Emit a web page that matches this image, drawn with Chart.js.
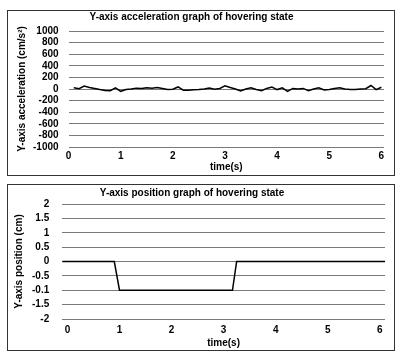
<!DOCTYPE html>
<html>
<head>
<meta charset="utf-8">
<script src="https://cdn.jsdelivr.net/npm/chart.js@4"></script>
<style>
  html, body { margin: 0; padding: 0; background: #fff; }
  body { width: 400px; height: 357px; position: relative; overflow: hidden; }
  .panel { position: absolute; border: 1px solid #333; box-sizing: border-box; background: #fff; }
  #p1 { left: 7px; top: 10px; width: 388px; height: 166px; }
  #p2 { left: 7px; top: 184px; width: 388px; height: 167px; }
  canvas { display: block; }
</style>
</head>
<body>
<div class="panel" id="p1"><canvas id="c1"></canvas></div>
<div class="panel" id="p2"><canvas id="c2"></canvas></div>
<script>
// ---- Data ----
const accTime = [0.1,0.2,0.3,0.4,0.5,0.6,0.7,0.8,0.9,1.0,1.1,1.2,1.3,1.4,1.5,1.6,1.7,1.8,1.9,2.0,
                 2.1,2.2,2.3,2.4,2.5,2.6,2.7,2.8,2.9,3.0,3.1,3.2,3.3,3.4,3.5,3.6,3.7,3.8,3.9,4.0,
                 4.1,4.2,4.3,4.4,4.5,4.6,4.7,4.8,4.9,5.0,5.1,5.2,5.3,5.4,5.5,5.6,5.7,5.8,5.9,6.0];
const accValues = [20,5,50,25,10,-10,-25,-30,20,-40,-10,0,15,10,20,15,25,10,-10,-5,
                   35,-20,-20,-15,-10,0,15,-5,10,55,25,0,-35,0,20,-10,-30,10,35,-10,
                   20,-40,10,0,10,-30,0,20,-15,-10,10,20,0,-10,-10,0,5,60,-10,30];
const posTime = [-0.1,0.9,1.0,3.17,3.25,6.1];
const posValues = [0,0,-1,-1,0,0];
const accTicks = [1000,800,600,400,200,0,-200,-400,-600,-800,-1000];
const posTickLabels = {"2":"2","1.5":"1.5","1":"1","0.5":"0.5","0":"0","-0.5":"-0.5","-1":"-0.1","-1.5":"-1.5","-2":"-2"};
const xTickLabels = ["0","1","2","3","4","5","6"];

const FONT = "'Liberation Sans', Arial, sans-serif";
Chart.defaults.font.family = FONT;
Chart.defaults.color = '#000';

function makeChart(id, w, h, cfg) {
  const cv = document.getElementById(id);
  cv.width = w; cv.height = h;
  cv.style.width = w + 'px'; cv.style.height = h + 'px';
  return new Chart(cv, {
    type: 'line',
    data: { datasets: [{
      data: cfg.xs.map((x, i) => ({x: x, y: cfg.ys[i]})),
      borderColor: '#000', borderWidth: 1.5, pointRadius: 0, tension: 0, fill: false
    }]},
    options: {
      responsive: false, animation: false, devicePixelRatio: 1,
      layout: { padding: cfg.padding },
      plugins: {
        legend: { display: false }, tooltip: { enabled: false },
        title: { display: true, text: cfg.title, color: '#000',
                 font: { size: 10, weight: 'bold', family: FONT },
                 padding: cfg.titlePad }
      },
      scales: {
        x: {
          type: 'linear', min: cfg.xmin, max: cfg.xmax,
          grid: { display: false, drawTicks: false }, border: { display: false },
          ticks: { stepSize: 1, includeBounds: false, autoSkip: false, maxRotation: 0,
                   color: '#000', padding: cfg.xTickPad,
                   font: { size: 10, weight: 'bold' },
                   callback: v => xTickLabels[v] !== undefined ? xTickLabels[v] : '' },
          title: { display: true, text: 'time(s)', color: '#000', padding: cfg.xTitlePad,
                   font: { size: 10, weight: 'bold', lineHeight: 1.0 } }
        },
        y: {
          min: cfg.ymin, max: cfg.ymax,
          grid: { color: '#7a7a7a', lineWidth: 1, drawTicks: false },
          border: { display: false },
          ticks: { stepSize: cfg.ystep, autoSkip: false, color: '#000', padding: cfg.yTickPad,
                   font: { size: 10, weight: 'bold' }, callback: cfg.ycb },
          title: { display: true, text: cfg.ytitle, color: '#000', padding: cfg.yTitlePad,
                   font: { size: 10, weight: 'bold' } }
        }
      }
    }
  });
}

makeChart('c1', 386, 164, {
  xs: accTime, ys: accValues, xmin: 0, xmax: 6.05, ymin: -1000, ymax: 1000, ystep: 200,
  title: 'Y-axis acceleration graph of hovering state',
  ytitle: 'Y-axis acceleration (cm/s²)',
  ycb: v => accTicks.includes(v) ? String(v) : '',
  padding: { left: -9, right: 10, top: 0, bottom: 3 },
  titlePad: { top: 0, bottom: 8 },
  xTickPad: 3, xTitlePad: { top: -3, bottom: 0 },
  yTickPad: 10, yTitlePad: { top: 17, bottom: -5 }
});
makeChart('c2', 386, 165, {
  xs: posTime, ys: posValues, xmin: -0.1, xmax: 6.1, ymin: -2, ymax: 2, ystep: 0.5,
  title: 'Y-axis position graph of hovering state',
  ytitle: 'Y-axis position (cm)',
  ycb: v => posTickLabels[String(v)] !== undefined ? posTickLabels[String(v)] : '',
  padding: { left: -9, right: 9, top: 1, bottom: 2 },
  titlePad: { top: 0, bottom: 5 },
  xTickPad: 5, xTitlePad: { top: -3, bottom: 0 },
  yTickPad: 13, yTitlePad: { top: 14, bottom: -6 }
});
</script>
</body>
</html>
